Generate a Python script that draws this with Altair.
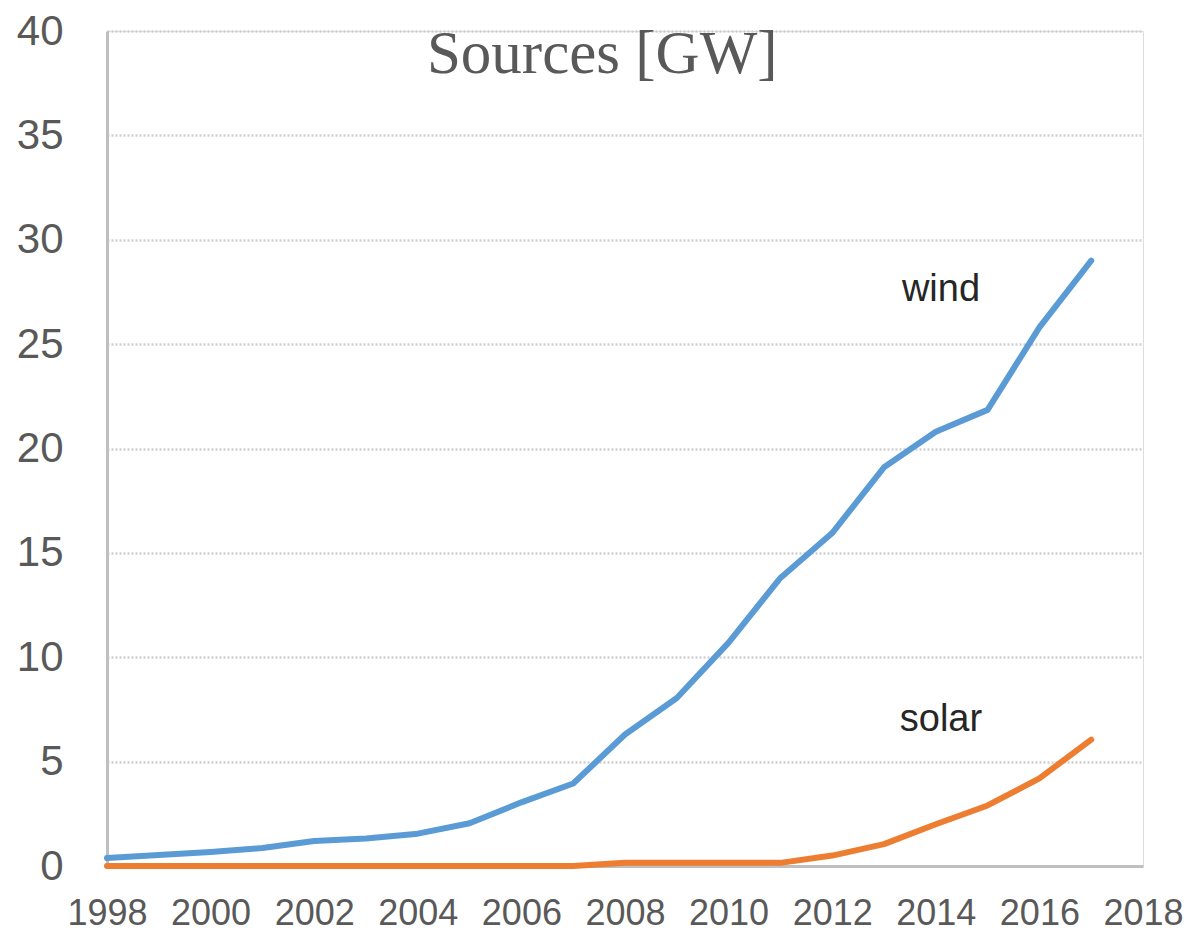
import altair as alt
import pandas as pd

years = list(range(1998, 2018))
wind = [0.38, 0.53, 0.67, 0.86, 1.2, 1.32, 1.55, 2.05, 3.05, 3.95,
        6.3, 8.05, 10.7, 13.8, 15.95, 19.1, 20.8, 21.85, 25.8, 29.0]
solar = [0.0, 0.0, 0.0, 0.0, 0.0, 0.0, 0.0, 0.0, 0.0, 0.0,
         0.15, 0.15, 0.15, 0.15, 0.5, 1.05, 2.0, 2.9, 4.2, 6.05]
series_names = ["wind", "solar"]
series_colors = ["#5B9BD5", "#ED7D31"]

label_text = ["wind", "solar"]
label_x = [2014.1, 2014.1]
label_y = [27.6, 7.0]

title_text = ["Sources [GW]"]
title_x = [2007.56]
title_y = [38.0]

rows = []
for name, vals in zip(series_names, [wind, solar]):
    for yr, v in zip(years, vals):
        rows.append({"year": yr, "value": v, "series": name})
df = pd.DataFrame(rows)

x_scale = alt.Scale(domain=[1998, 2018], nice=False, zero=False)
y_scale = alt.Scale(domain=[0, 40], nice=False)

lines = alt.Chart(df).mark_line(strokeWidth=6, strokeJoin="round", strokeCap="round").encode(
    x=alt.X("year:Q", scale=x_scale,
            axis=alt.Axis(values=list(range(1998, 2019, 2)), format="d", title=None,
                          grid=False, ticks=False, domain=True, domainColor="#bfbfbf",
                          domainWidth=3, labelFont="Liberation Sans", labelFontSize=36,
                          labelColor="#595959", labelPadding=30, labelBaseline="top",
                          labelFlush=False, labelOverlap=False)),
    y=alt.Y("value:Q", scale=y_scale,
            axis=alt.Axis(values=list(range(0, 41, 5)), title=None,
                          grid=True, gridColor="#d0d0d0", gridWidth=2.5, gridDash=[2, 2],
                          ticks=False, domain=True, domainColor="#bfbfbf", domainWidth=3,
                          labelFont="Liberation Sans", labelFontSize=42,
                          labelColor="#595959", labelPadding=44, labelFlush=False)),
    color=alt.Color("series:N", scale=alt.Scale(domain=series_names, range=series_colors),
                    legend=None),
    detail="series:N",
)

labels_df = pd.DataFrame({"x": label_x, "y": label_y, "t": label_text})
labels = alt.Chart(labels_df).mark_text(
    font="Liberation Sans", fontSize=38, color="#262626", align="center", baseline="middle"
).encode(x=alt.X("x:Q", scale=x_scale), y=alt.Y("y:Q", scale=y_scale), text="t:N")

title_df = pd.DataFrame({"x": title_x, "y": title_y, "t": title_text})
title = alt.Chart(title_df).mark_text(
    font="Liberation Serif", fontSize=61, color="#595959", align="center", baseline="alphabetic"
).encode(x=alt.X("x:Q", scale=x_scale), y=alt.Y("y:Q", scale=y_scale), text="t:N")

chart = alt.layer(lines, labels, title).properties(
    width=1036, height=835,
    autosize=alt.AutoSizeParams(type="none"),
    padding={"left": 99, "top": 23, "right": 41, "bottom": 70},
).configure_view(stroke=None).configure(background="white")

chart.save("out.html", embed_options={"renderer": "svg", "actions": False})
